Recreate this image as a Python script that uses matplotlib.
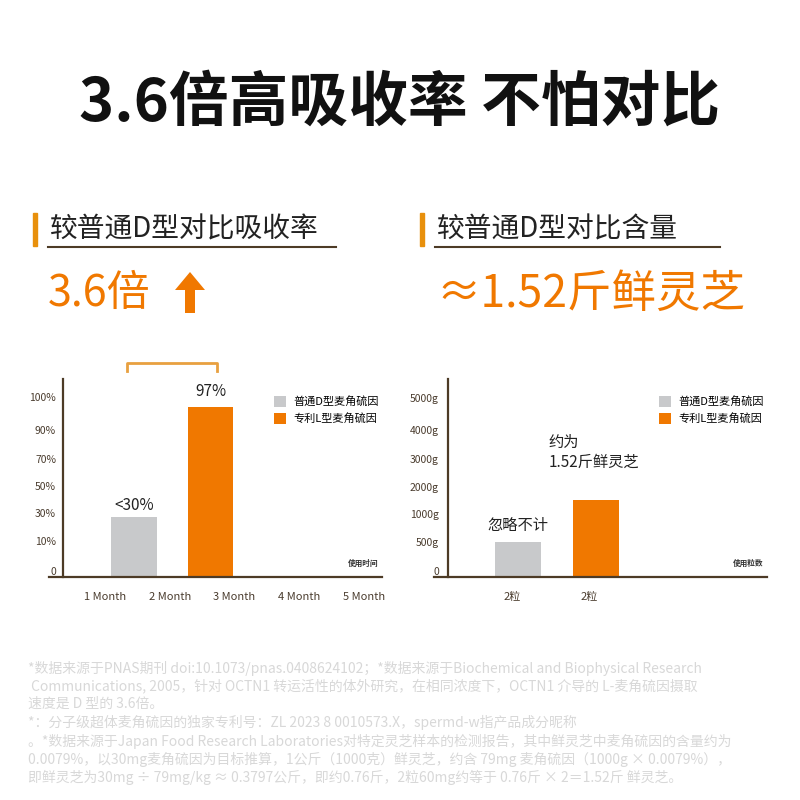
import numpy as np
import matplotlib.pyplot as plt
from matplotlib.patches import Rectangle, FancyArrow
from matplotlib.lines import Line2D

plt.rcParams['font.family'] = ['Noto Sans CJK SC', 'DejaVu Sans']

# ---- data ----
series_names = ['普通D型麦角硫因', '专利L型麦角硫因']

months = ['1 Month', '2 Month', '3 Month', '4 Month', '5 Month']
absorb_values = [27, 97]          # %
absorb_labels = ['<30%', '97%']
absorb_ticks = [0, 10, 30, 50, 70, 90, 100]
absorb_ticklabels = ['0', '10%', '30%', '50%', '70%', '90%', '100%']

dose_labels = ['2粒', '2粒']
content_values = [500, 1520]      # g
content_ticks = [0, 500, 1000, 2000, 3000, 4000, 5000]
content_ticklabels = ['0', '500g', '1000g', '2000g', '3000g', '4000g', '5000g']

footnotes = [
    '*数据来源于PNAS期刊 doi:10.1073/pnas.0408624102；*数据来源于Biochemical and Biophysical Research',
    ' Communications, 2005，针对 OCTN1 转运活性的体外研究，在相同浓度下，OCTN1 介导的 L-麦角硫因摄取',
    '速度是 D 型的 3.6倍。',
    '*：分子级超体麦角硫因的独家专利号：ZL 2023 8 0010573.X，spermd-w指产品成分昵称',
    '。*数据来源于Japan Food Research Laboratories对特定灵芝样本的检测报告，其中鲜灵芝中麦角硫因的含量约为',
    '0.0079%，以30mg麦角硫因为目标推算，1公斤（1000克）鲜灵芝，约含 79mg 麦角硫因（1000g × 0.0079%），',
    '即鲜灵芝为30mg ÷ 79mg/kg ≈ 0.3797公斤，即约0.76斤，2粒60mg约等于 0.76斤 × 2＝1.52斤 鲜灵芝。',
]

GREY = '#c8c9cb'
ORANGE = '#f07800'
BROWN = '#4d3b26'
GOLD = '#e8900c'

W = H = 800.0


def fx(x):
    return x / W


def fy(y):
    return 1 - y / H


def rect(x0, y0, x1, y1):
    return [x0 / W, 1 - y1 / H, (x1 - x0) / W, (y1 - y0) / H]


fig = plt.figure(figsize=(8, 8), dpi=100)
fig.patch.set_facecolor('white')

# ---- headings ----
fig.text(0.5, fy(104), '3.6倍高吸收率 不怕对比', ha='center', va='center',
         fontsize=43, fontweight='bold', color='#111111')

for x_bar, x_txt, x_end, txt in [(33, 50, 336, '较普通D型对比吸收率'),
                                 (420, 437, 720, '较普通D型对比含量')]:
    fig.patches.append(Rectangle((fx(x_bar), fy(246)), 4 / W, 33 / H,
                                 transform=fig.transFigure, color=GOLD))
    fig.text(fx(x_txt), fy(230), txt, ha='left', va='center', fontsize=20, color='#222222')
    fig.lines.append(Line2D([fx(x_txt - 2), fx(x_end)], [fy(247), fy(247)],
                            transform=fig.transFigure, color=BROWN, lw=1.5))

fig.text(fx(48), fy(294), '3.6倍', ha='left', va='center', fontsize=31, color=ORANGE)
fig.patches.append(FancyArrow(fx(190), fy(313), 0, 41 / H, width=10 / W,
                              head_width=30 / W, head_length=18 / H,
                              length_includes_head=True, transform=fig.transFigure,
                              color=ORANGE, lw=0))
fig.text(fx(436), fy(294), '≈1.52斤鲜灵芝', ha='left', va='center', fontsize=32, color=ORANGE)


def make_scale(ticks, positions):
    def fwd(v):
        return np.interp(v, ticks, positions)

    def inv(p):
        return np.interp(p, positions, ticks)
    return fwd, inv


def style_axes(ax, spine_frac, pad):
    for s in ['top', 'right']:
        ax.spines[s].set_visible(False)
    ax.spines['left'].set_position(('axes', spine_frac))
    for s in ['left', 'bottom']:
        ax.spines[s].set_color(BROWN)
        ax.spines[s].set_linewidth(1.6)
    ax.tick_params(axis='both', length=0, colors='#4a3c2e')
    ax.tick_params(axis='y', pad=pad, labelsize=7.5)
    ax.tick_params(axis='x', pad=11, labelsize=8)
    ax.set_facecolor('none')
    ax.yaxis.get_ticklabels()[0].set_va('bottom')


# ---- left chart ----
ax1 = fig.add_axes(rect(49, 379, 382, 577))
scale1 = make_scale(absorb_ticks + [120], [0, 36, 64, 91, 118, 147, 180, 240])
ax1.set_yscale('function', functions=scale1)
bar_x1 = [0.45, 1.63]
for i in range(2):
    ax1.bar(bar_x1[i], absorb_values[i], width=0.71,
            color=[GREY, ORANGE][i], label=series_names[i])
    ax1.text(bar_x1[i], absorb_values[i] + 2, absorb_labels[i], ha='center',
             va='bottom', fontsize=11, color='#222222')
ax1.set_xlim(-0.865, 4.28)
ax1.set_ylim(0, 106)
ax1.set_xticks(range(len(months)))
ax1.set_xticklabels(months)
ax1.set_yticks(absorb_ticks)
ax1.set_yticklabels(absorb_ticklabels)
style_axes(ax1, 14 / 333, 5)
ax1.text(0.99, 0.045, '使用时间', transform=ax1.transAxes, ha='right', va='bottom',
         fontsize=5.5, fontweight='bold', color='#333333')
# bracket between the two bars
tr = ax1.get_xaxis_transform()
ax1.plot([bar_x1[0] - 0.11, bar_x1[0] - 0.11, bar_x1[1] + 0.1, bar_x1[1] + 0.1],
         [1.04, 1.08, 1.08, 1.04], transform=tr, color='#e8a040', lw=2, clip_on=False)
ax1.legend(loc='upper left', bbox_to_anchor=(fx(274), fy(396)),
           bbox_transform=fig.transFigure, frameon=False, fontsize=8,
           handlelength=1.1, handleheight=1.1, handletextpad=0.6,
           labelspacing=0.55, borderpad=0, borderaxespad=0)

# ---- right chart ----
ax2 = fig.add_axes(rect(434, 379, 767, 577))
scale2 = make_scale(content_ticks + [6000], [0, 35, 63, 90, 118, 147, 179, 210])
ax2.set_yscale('function', functions=scale2)
bar_x2 = [0, 1.01]
for i in range(2):
    ax2.bar(bar_x2[i], content_values[i], width=0.6,
            color=[GREY, ORANGE][i], label=series_names[i])
ax2.text(bar_x2[0], 640, '忽略不计', ha='center', va='bottom', fontsize=11, color='#222222')
ax2.text(0.345, 0.63, '约为\n1.52斤鲜灵芝', transform=ax2.transAxes, ha='left',
         va='center', fontsize=11, color='#222222', linespacing=1.25)
ax2.set_xlim(-1.09, 3.23)
ax2.set_ylim(0, 5600)
ax2.set_xticks([b - 0.08 for b in bar_x2])
ax2.set_xticklabels(dose_labels)
ax2.set_yticks(content_ticks)
ax2.set_yticklabels(content_ticklabels)
style_axes(ax2, 14 / 333, 6.5)
ax2.text(0.99, 0.045, '使用粒数', transform=ax2.transAxes, ha='right', va='bottom',
         fontsize=5.5, fontweight='bold', color='#333333')
ax2.legend(loc='upper left', bbox_to_anchor=(fx(659), fy(396)),
           bbox_transform=fig.transFigure, frameon=False, fontsize=8,
           handlelength=1.1, handleheight=1.1, handletextpad=0.6,
           labelspacing=0.55, borderpad=0, borderaxespad=0)

# ---- footnotes ----
foot_y = [668, 686, 704, 722, 741, 759, 777]
for yy, line in zip(foot_y, footnotes):
    fig.text(fx(28), fy(yy), line, ha='left', va='center', fontsize=10, color='#d8d8d8')

fig.savefig('out.png', dpi=100, facecolor='white')
